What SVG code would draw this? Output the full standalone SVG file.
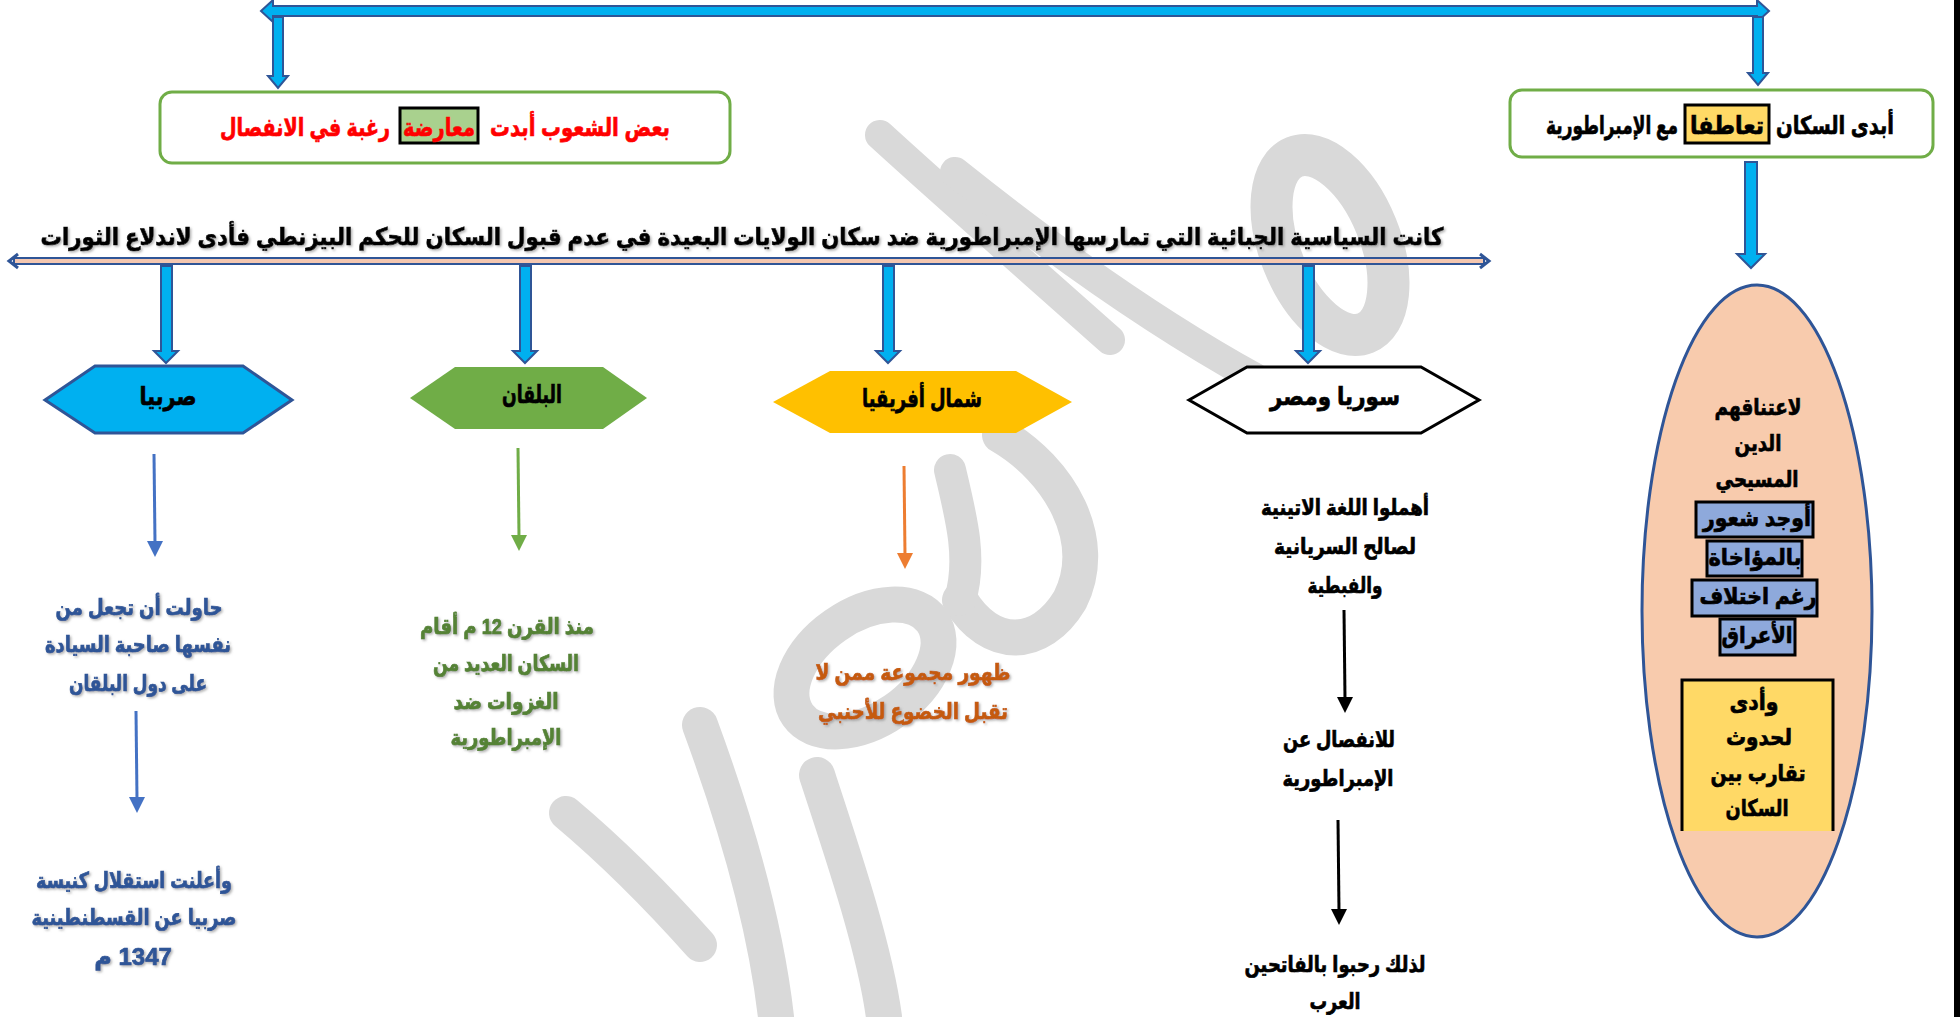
<svg xmlns="http://www.w3.org/2000/svg" width="1960" height="1017" viewBox="0 0 1960 1017">
<defs>
<style>
.t{font-family:"Liberation Sans","DejaVu Sans",sans-serif;font-weight:bold;dominant-baseline:central;direction:rtl;paint-order:stroke;stroke-width:0.7px}
.m{text-anchor:middle}
.blk{fill:#000;stroke:#000}
.red{fill:#FF0000;stroke:#FF0000}
.blue{fill:#2F5597;stroke:#2F5597}
.grn{fill:#548235;stroke:#548235}
.org{fill:#C55A11;stroke:#C55A11}
.barrow{fill:#00B0F0;stroke:#2F5597;stroke-width:2;stroke-linejoin:miter}
.wm{fill:none;stroke:#D9D9D9;stroke-linecap:round;stroke-linejoin:round}
.hl{stroke:#000;stroke-width:3}
</style>
<filter id="sh" x="-5%" y="-30%" width="110%" height="160%">
<feDropShadow dx="1.5" dy="1.5" stdDeviation="1" flood-color="#808080" flood-opacity="0.6"/>
</filter>
</defs>
<rect width="1960" height="1017" fill="#fff"/>
<rect x="1954" y="0" width="6" height="1017" fill="#000"/>

<g id="watermark">
<path class="wm" stroke-width="30" d="M880 135 C 940 190, 1020 260, 1110 340"/>
<path class="wm" stroke-width="30" d="M955 172 C 1040 240, 1150 320, 1255 378"/>
<ellipse class="wm" stroke-width="42" cx="1330" cy="245" rx="50" ry="95" transform="rotate(-22 1330 245)"/>
<path class="wm" stroke-width="36" d="M1000 435 C 1060 470, 1100 540, 1070 600 C 1040 650, 990 650, 960 600"/>
<path class="wm" stroke-width="32" d="M950 470 C 962 520, 972 560, 960 600"/>
<ellipse class="wm" stroke-width="36" cx="865" cy="668" rx="82" ry="52" transform="rotate(-35 865 668)"/>
<path class="wm" stroke-width="36" d="M700 725 C 735 820, 765 920, 776 1017"/>
<path class="wm" stroke-width="36" d="M817 775 C 845 860, 875 950, 884 1017"/>
<path class="wm" stroke-width="34" d="M566 813 C 610 850, 660 900, 700 945"/>
</g>

<g id="connectors">
<path class="barrow" d="M261 11 L273 0 L273 6 L1757 6 L1757 0 L1769 11 L1757 22 L1757 16 L273 16 L273 22 Z"/>
<path class="barrow" d="M273 17 L283 17 L283 76 L288 76 L278 88 L268 76 L273 76 Z"/>
<path class="barrow" d="M1753 17 L1763 17 L1763 73 L1768 73 L1758 85 L1748 73 L1753 73 Z"/>
<path class="barrow" d="M1745 162 L1757 162 L1757 254 L1765 254 L1751 268 L1737 254 L1745 254 Z"/>
<rect x="14" y="258" width="1470" height="6" fill="#F4C7B0" stroke="#2F5597" stroke-width="2"/>
<path d="M18 254 L9 261 L18 268" fill="none" stroke="#2F5597" stroke-width="3"/>
<path d="M1480 254 L1489 261 L1480 268" fill="none" stroke="#2F5597" stroke-width="3"/>
<path class="barrow" d="M161 266 L172 266 L172 351 L178 351 L166 363 L154 351 L161 351 Z"/>
<path class="barrow" d="M520 266 L531 266 L531 351 L537 351 L525 363 L513 351 L520 351 Z"/>
<path class="barrow" d="M883 266 L894 266 L894 351 L900 351 L888 363 L876 351 L883 351 Z"/>
<path class="barrow" d="M1303 266 L1314 266 L1314 351 L1320 351 L1308 363 L1296 351 L1303 351 Z"/>
<g stroke-width="3">
<line x1="154" y1="454" x2="155" y2="543" stroke="#4472C4"/>
<path d="M147 541 L163 541 L155 557 Z" fill="#4472C4"/>
<line x1="136" y1="711" x2="137" y2="799" stroke="#4472C4"/>
<path d="M129 797 L145 797 L137 813 Z" fill="#4472C4"/>
<line x1="518" y1="448" x2="519" y2="537" stroke="#70AD47"/>
<path d="M511 535 L527 535 L519 551 Z" fill="#70AD47"/>
<line x1="904" y1="466" x2="905" y2="555" stroke="#ED7D31"/>
<path d="M897 553 L913 553 L905 569 Z" fill="#ED7D31"/>
<line x1="1344" y1="610" x2="1345" y2="699" stroke="#000"/>
<path d="M1337 697 L1353 697 L1345 713 Z" fill="#000"/>
<line x1="1338" y1="820" x2="1339" y2="911" stroke="#000"/>
<path d="M1331 909 L1347 909 L1339 925 Z" fill="#000"/>
</g>
</g>

<g id="box-left">
<rect x="160" y="92" width="570" height="71" rx="12" fill="#fff" stroke="#70AD47" stroke-width="3"/>
<rect class="hl" x="400" y="108" width="78" height="35" fill="#A9D18E"/>
<text class="t m red" font-size="25" x="580" y="127" textLength="180" lengthAdjust="spacingAndGlyphs">بعض الشعوب أبدت</text>
<text class="t m red" font-size="25" x="439" y="127" textLength="72" lengthAdjust="spacingAndGlyphs">معارضة</text>
<text class="t m red" font-size="25" x="305" y="127" textLength="170" lengthAdjust="spacingAndGlyphs">رغبة في الانفصال</text>
</g>

<g id="box-right">
<rect x="1510" y="90" width="423" height="67" rx="12" fill="#fff" stroke="#70AD47" stroke-width="3"/>
<rect class="hl" x="1685" y="105" width="84" height="38" fill="#FFD966"/>
<text class="t m blk" font-size="25" x="1835" y="125" textLength="118" lengthAdjust="spacingAndGlyphs">أبدى السكان</text>
<text class="t m blk" font-size="25" x="1727" y="125" textLength="74" lengthAdjust="spacingAndGlyphs">تعاطفا</text>
<text class="t m blk" font-size="25" x="1612" y="125" textLength="132" lengthAdjust="spacingAndGlyphs">مع الإمبراطورية</text>
</g>

<g id="title">
<text class="t m blk" font-size="24" x="742" y="236" textLength="1403" lengthAdjust="spacingAndGlyphs" filter="url(#sh)">كانت السياسية الجبائية التي تمارسها الإمبراطورية ضد سكان الولايات البعيدة في عدم قبول السكان للحكم البيزنطي فأدى لاندلاع الثورات</text>
</g>

<g id="hex-serbia">
<polygon points="45,400 95,366 243,366 292,400 243,433 95,433" fill="#00B0F0" stroke="#2F5597" stroke-width="3"/>
<text class="t m blk" font-size="25" x="168" y="396" textLength="57" lengthAdjust="spacingAndGlyphs">صربيا</text>
</g>
<g id="hex-balkans">
<polygon points="410,398 455,367 603,367 647,398 603,429 455,429" fill="#70AD47"/>
<text class="t m blk" font-size="25" x="532" y="394" textLength="60" lengthAdjust="spacingAndGlyphs">البلقان</text>
</g>
<g id="hex-nafrica">
<polygon points="773,402 830,371 1016,371 1072,402 1016,433 830,433" fill="#FFC000"/>
<text class="t m blk" font-size="25" x="922" y="398" textLength="120" lengthAdjust="spacingAndGlyphs">شمال أفريقيا</text>
</g>
<g id="hex-syria">
<polygon points="1189,400 1247,367 1421,367 1479,400 1421,433 1247,433" fill="#fff" stroke="#000" stroke-width="3"/>
<text class="t m blk" font-size="25" x="1335" y="396" textLength="130" lengthAdjust="spacingAndGlyphs">سوريا ومصر</text>
</g>

<g id="serbia-text" filter="url(#sh)">
<text class="t m blue" font-size="22" x="139" y="607" textLength="167" lengthAdjust="spacingAndGlyphs">حاولت أن تجعل من</text>
<text class="t m blue" font-size="22" x="138" y="644" textLength="186" lengthAdjust="spacingAndGlyphs">نفسها صاحبة السيادة</text>
<text class="t m blue" font-size="22" x="138" y="683" textLength="138" lengthAdjust="spacingAndGlyphs">على دول البلقان</text>
</g>
<g id="serbia-text2" filter="url(#sh)">
<text class="t m blue" font-size="22" x="134" y="880" textLength="196" lengthAdjust="spacingAndGlyphs">وأعلنت استقلال كنيسة</text>
<text class="t m blue" font-size="22" x="134" y="917" textLength="205" lengthAdjust="spacingAndGlyphs">صربيا عن القسطنطينية</text>
<text class="t m blue" font-size="24" x="133" y="956">1347 م</text>
</g>
<g id="balkans-text" filter="url(#sh)">
<text class="t m grn" font-size="22" x="507" y="626" textLength="174" lengthAdjust="spacingAndGlyphs">منذ القرن 12 م أقام</text>
<text class="t m grn" font-size="22" x="506" y="663" textLength="146" lengthAdjust="spacingAndGlyphs">السكان العديد من</text>
<text class="t m grn" font-size="22" x="506" y="701" textLength="105" lengthAdjust="spacingAndGlyphs">الغزوات ضد</text>
<text class="t m grn" font-size="22" x="506" y="737" textLength="111" lengthAdjust="spacingAndGlyphs">الإمبراطورية</text>
</g>
<g id="nafrica-text" filter="url(#sh)">
<text class="t m org" font-size="22" x="913" y="672" textLength="195" lengthAdjust="spacingAndGlyphs">ظهور مجموعة ممن لا</text>
<text class="t m org" font-size="22" x="913" y="711" textLength="190" lengthAdjust="spacingAndGlyphs">تقبل الخضوع للأحنبي</text>
</g>
<g id="syria-text1">
<text class="t m blk" font-size="22" x="1345" y="507" textLength="168" lengthAdjust="spacingAndGlyphs">أهملوا اللغة الاتينية</text>
<text class="t m blk" font-size="22" x="1345" y="546" textLength="142" lengthAdjust="spacingAndGlyphs">لصالح السريانية</text>
<text class="t m blk" font-size="22" x="1345" y="585" textLength="75" lengthAdjust="spacingAndGlyphs">والفبطية</text>
</g>
<g id="syria-text2">
<text class="t m blk" font-size="22" x="1339" y="739" textLength="112" lengthAdjust="spacingAndGlyphs">للانفصال عن</text>
<text class="t m blk" font-size="22" x="1338" y="778" textLength="111" lengthAdjust="spacingAndGlyphs">الإمبراطورية</text>
</g>
<g id="syria-text3">
<text class="t m blk" font-size="22" x="1335" y="964" textLength="181" lengthAdjust="spacingAndGlyphs">لذلك رحبوا بالفاتحين</text>
<text class="t m blk" font-size="22" x="1335" y="1001" textLength="51" lengthAdjust="spacingAndGlyphs">العرب</text>
</g>

<g id="ellipse">
<ellipse cx="1757" cy="611" rx="115" ry="326" fill="#F8CBAD" stroke="#2F5597" stroke-width="3"/>
<text class="t m blk" font-size="23" x="1758" y="407" textLength="87" lengthAdjust="spacingAndGlyphs">لاعتناقهم</text>
<text class="t m blk" font-size="23" x="1758" y="443" textLength="47" lengthAdjust="spacingAndGlyphs">الدين</text>
<text class="t m blk" font-size="23" x="1757" y="479" textLength="83" lengthAdjust="spacingAndGlyphs">المسيحي</text>
<rect class="hl" x="1696" y="502" width="117" height="35" fill="#8EA9DB"/>
<rect class="hl" x="1707" y="541" width="95" height="35" fill="#8EA9DB"/>
<rect class="hl" x="1692" y="580" width="125" height="36" fill="#8EA9DB"/>
<rect class="hl" x="1720" y="619" width="75" height="36" fill="#8EA9DB"/>
<text class="t m blk" font-size="23" x="1757" y="518" textLength="108" lengthAdjust="spacingAndGlyphs">أوجد شعور</text>
<text class="t m blk" font-size="23" x="1755" y="557" textLength="93" lengthAdjust="spacingAndGlyphs">بالمؤاخاة</text>
<text class="t m blk" font-size="23" x="1758" y="596" textLength="117" lengthAdjust="spacingAndGlyphs">رغم اختلاف</text>
<text class="t m blk" font-size="23" x="1757" y="635" textLength="71" lengthAdjust="spacingAndGlyphs">الأعراق</text>
<path d="M1682 831 L1682 680 L1833 680 L1833 831" fill="#FFD966" stroke="#000" stroke-width="3"/>
<text class="t m blk" font-size="23" x="1754" y="702" textLength="49" lengthAdjust="spacingAndGlyphs">وأدى</text>
<text class="t m blk" font-size="23" x="1759" y="737" textLength="66" lengthAdjust="spacingAndGlyphs">لحدوث</text>
<text class="t m blk" font-size="23" x="1758" y="773" textLength="95" lengthAdjust="spacingAndGlyphs">تقارب بين</text>
<text class="t m blk" font-size="23" x="1757" y="808" textLength="63" lengthAdjust="spacingAndGlyphs">السكان</text>
</g>
</svg>
